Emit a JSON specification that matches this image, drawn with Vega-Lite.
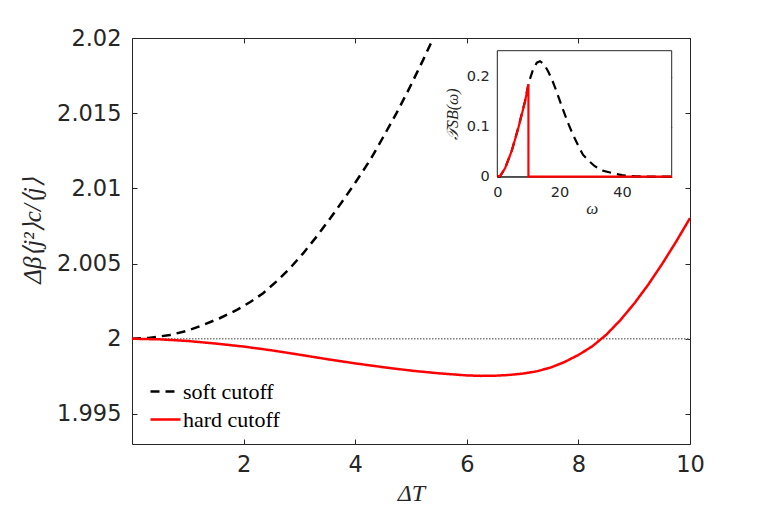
{
  "$schema": "https://vega.github.io/schema/vega-lite/v6.json",
  "width": 558,
  "height": 406,
  "autosize": {"type": "none"},
  "padding": {"left": 132, "top": 38, "right": 74, "bottom": 61},
  "background": "white",
  "config": {
    "view": {"stroke": null},
    "axis": {
      "domainColor": "#262626",
      "tickColor": "#262626",
      "labelColor": "#262626",
      "titleColor": "#262626",
      "domainWidth": 1,
      "tickWidth": 1,
      "grid": false,
      "labelFlush": false,
      "labelFont": "DejaVu Sans",
      "titleFont": "Liberation Serif",
      "titleFontWeight": "normal",
      "zindex": 1
    }
  },
  "datasets": {
    "main": [
      {"dT": 0, "val": 2.0, "series": "soft cutoff"},
      {"dT": 0.3, "val": 2.00005, "series": "soft cutoff"},
      {"dT": 0.68, "val": 2.00025, "series": "soft cutoff"},
      {"dT": 0.98, "val": 2.00052, "series": "soft cutoff"},
      {"dT": 1.28, "val": 2.00092, "series": "soft cutoff"},
      {"dT": 1.58, "val": 2.00138, "series": "soft cutoff"},
      {"dT": 1.88, "val": 2.00192, "series": "soft cutoff"},
      {"dT": 2.12, "val": 2.00244, "series": "soft cutoff"},
      {"dT": 2.35, "val": 2.00303, "series": "soft cutoff"},
      {"dT": 2.59, "val": 2.00381, "series": "soft cutoff"},
      {"dT": 2.83, "val": 2.00469, "series": "soft cutoff"},
      {"dT": 3.07, "val": 2.00569, "series": "soft cutoff"},
      {"dT": 3.31, "val": 2.0068, "series": "soft cutoff"},
      {"dT": 3.55, "val": 2.00799, "series": "soft cutoff"},
      {"dT": 3.79, "val": 2.00924, "series": "soft cutoff"},
      {"dT": 4.03, "val": 2.01054, "series": "soft cutoff"},
      {"dT": 4.27, "val": 2.0119, "series": "soft cutoff"},
      {"dT": 4.5, "val": 2.0134, "series": "soft cutoff"},
      {"dT": 4.74, "val": 2.015, "series": "soft cutoff"},
      {"dT": 4.98, "val": 2.01673, "series": "soft cutoff"},
      {"dT": 5.22, "val": 2.01856, "series": "soft cutoff"},
      {"dT": 5.4, "val": 2.02, "series": "soft cutoff"},
      {"dT": 5.6, "val": 2.0216, "series": "soft cutoff"},
      {"dT": 0, "val": 2.0, "series": "hard cutoff"},
      {"dT": 0.5, "val": 1.99996, "series": "hard cutoff"},
      {"dT": 1.0, "val": 1.99985, "series": "hard cutoff"},
      {"dT": 1.5, "val": 1.99968, "series": "hard cutoff"},
      {"dT": 2.0, "val": 1.99948, "series": "hard cutoff"},
      {"dT": 2.5, "val": 1.99923, "series": "hard cutoff"},
      {"dT": 3.0, "val": 1.99894, "series": "hard cutoff"},
      {"dT": 3.5, "val": 1.99864, "series": "hard cutoff"},
      {"dT": 4.0, "val": 1.99836, "series": "hard cutoff"},
      {"dT": 4.5, "val": 1.99811, "series": "hard cutoff"},
      {"dT": 5.0, "val": 1.99788, "series": "hard cutoff"},
      {"dT": 5.5, "val": 1.9977, "series": "hard cutoff"},
      {"dT": 6.0, "val": 1.99756, "series": "hard cutoff"},
      {"dT": 6.25, "val": 1.99753, "series": "hard cutoff"},
      {"dT": 6.5, "val": 1.99754, "series": "hard cutoff"},
      {"dT": 6.75, "val": 1.99759, "series": "hard cutoff"},
      {"dT": 7.0, "val": 1.99768, "series": "hard cutoff"},
      {"dT": 7.25, "val": 1.99783, "series": "hard cutoff"},
      {"dT": 7.5, "val": 1.99808, "series": "hard cutoff"},
      {"dT": 7.75, "val": 1.99845, "series": "hard cutoff"},
      {"dT": 8.0, "val": 1.99892, "series": "hard cutoff"},
      {"dT": 8.25, "val": 1.9995, "series": "hard cutoff"},
      {"dT": 8.5, "val": 2.00027, "series": "hard cutoff"},
      {"dT": 8.75, "val": 2.00123, "series": "hard cutoff"},
      {"dT": 9.0, "val": 2.00234, "series": "hard cutoff"},
      {"dT": 9.25, "val": 2.00359, "series": "hard cutoff"},
      {"dT": 9.5, "val": 2.00497, "series": "hard cutoff"},
      {"dT": 9.75, "val": 2.00645, "series": "hard cutoff"},
      {"dT": 10.0, "val": 2.00802, "series": "hard cutoff"}
    ],
    "inset": [
      {"w": 0, "T": 0, "series": "soft cutoff", "k": 0},
      {"w": 1, "T": 0.002, "series": "soft cutoff", "k": 1},
      {"w": 2.5, "T": 0.017, "series": "soft cutoff", "k": 2},
      {"w": 4.6, "T": 0.051, "series": "soft cutoff", "k": 3},
      {"w": 6.7, "T": 0.097, "series": "soft cutoff", "k": 4},
      {"w": 8.9, "T": 0.151, "series": "soft cutoff", "k": 5},
      {"w": 10, "T": 0.186, "series": "soft cutoff", "k": 6},
      {"w": 11.5, "T": 0.215, "series": "soft cutoff", "k": 7},
      {"w": 12.7, "T": 0.228, "series": "soft cutoff", "k": 8},
      {"w": 13.7, "T": 0.231, "series": "soft cutoff", "k": 9},
      {"w": 15, "T": 0.225, "series": "soft cutoff", "k": 10},
      {"w": 16.3, "T": 0.211, "series": "soft cutoff", "k": 11},
      {"w": 17.7, "T": 0.192, "series": "soft cutoff", "k": 12},
      {"w": 19, "T": 0.171, "series": "soft cutoff", "k": 13},
      {"w": 20.3, "T": 0.148, "series": "soft cutoff", "k": 14},
      {"w": 21.7, "T": 0.124, "series": "soft cutoff", "k": 15},
      {"w": 23, "T": 0.103, "series": "soft cutoff", "k": 16},
      {"w": 24.3, "T": 0.084, "series": "soft cutoff", "k": 17},
      {"w": 26, "T": 0.062, "series": "soft cutoff", "k": 18},
      {"w": 27.5, "T": 0.044, "series": "soft cutoff", "k": 19},
      {"w": 29.5, "T": 0.031, "series": "soft cutoff", "k": 20},
      {"w": 31.3, "T": 0.021, "series": "soft cutoff", "k": 21},
      {"w": 34, "T": 0.012, "series": "soft cutoff", "k": 22},
      {"w": 37, "T": 0.007, "series": "soft cutoff", "k": 23},
      {"w": 40, "T": 0.003, "series": "soft cutoff", "k": 24},
      {"w": 44, "T": 0.001, "series": "soft cutoff", "k": 25},
      {"w": 48, "T": 0.0003, "series": "soft cutoff", "k": 26},
      {"w": 52, "T": 0, "series": "soft cutoff", "k": 27},
      {"w": 56, "T": 0, "series": "soft cutoff", "k": 28},
      {"w": 0, "T": 0, "series": "hard cutoff", "k": 0},
      {"w": 1, "T": 0.002, "series": "hard cutoff", "k": 1},
      {"w": 2.5, "T": 0.017, "series": "hard cutoff", "k": 2},
      {"w": 4.6, "T": 0.051, "series": "hard cutoff", "k": 3},
      {"w": 6.7, "T": 0.096, "series": "hard cutoff", "k": 4},
      {"w": 8.9, "T": 0.15, "series": "hard cutoff", "k": 5},
      {"w": 10, "T": 0.185, "series": "hard cutoff", "k": 6},
      {"w": 10, "T": 0, "series": "hard cutoff", "k": 7},
      {"w": 56, "T": 0, "series": "hard cutoff", "k": 8}
    ],
    "ref": [{"a": 0, "b": 10, "v": 2}],
    "box": [{"w0": 0, "w1": 56, "t0": 0, "t1": 0.252}]
  },
  "resolve": {"scale": {"x": "independent", "y": "independent"}},
  "layer": [
    {
      "data": {"name": "ref"},
      "mark": {"type": "rule", "color": "#808080", "strokeWidth": 1.5, "strokeDash": [1.5, 1.5]},
      "encoding": {
        "x": {"field": "a", "type": "quantitative", "scale": {"domain": [0, 10], "nice": false, "zero": false},
          "axis": {"orient": "top", "values": [2, 4, 6, 8, 10], "labels": false, "tickSize": -5, "title": null}},
        "x2": {"field": "b"},
        "y": {"field": "v", "type": "quantitative", "scale": {"domain": [1.993, 2.02], "nice": false, "zero": false},
          "axis": {"orient": "right", "values": [1.995, 2, 2.005, 2.01, 2.015, 2.02], "labels": false, "tickSize": -5, "title": null}}
      }
    },
    {
      "data": {"name": "main"},
      "mark": {"type": "line", "strokeWidth": 2.5, "clip": true},
      "encoding": {
        "x": {"field": "dT", "type": "quantitative", "scale": {"domain": [0, 10], "nice": false, "zero": false},
          "axis": {"orient": "bottom", "values": [2, 4, 6, 8, 10], "format": "d", "tickSize": -5, "labelPadding": 14, "labelFontSize": 22.5,
            "title": "ΔT", "titleFontSize": 24, "titleFontStyle": "italic", "titleX": 279, "titleY": 49, "titleBaseline": "middle", "titleAlign": "center", "titleAngle": 0}},
        "y": {"field": "val", "type": "quantitative", "scale": {"domain": [1.993, 2.02], "nice": false, "zero": false},
          "axis": {"orient": "left", "values": [1.995, 2, 2.005, 2.01, 2.015, 2.02], "format": ".4~f", "tickSize": -5, "labelPadding": 16, "labelFontSize": 22.5,
            "title": "Δβ⟨j²⟩c/⟨j⟩", "titleFontSize": 25, "titleFontStyle": "italic", "titleX": -100, "titleY": 192, "titleAngle": -90, "titleBaseline": "middle", "titleAlign": "center"}},
        "color": {"field": "series", "type": "nominal", "scale": {"domain": ["soft cutoff", "hard cutoff"], "range": ["#000000", "#ff0000"]},
          "legend": {"title": null, "orient": "none", "legendX": 17, "legendY": 337, "padding": 0, "labelFont": "Liberation Serif", "labelFontSize": 22, "labelColor": "#000000", "symbolType": "stroke", "symbolSize": 900, "symbolStrokeWidth": 2.5, "rowPadding": -2, "labelOffset": 1}},
        "strokeDash": {"field": "series", "type": "nominal", "scale": {"domain": ["soft cutoff", "hard cutoff"], "range": [[9, 6], [1, 0]]},
          "legend": {"title": null, "orient": "none", "legendX": 17, "legendY": 337, "padding": 0, "labelFont": "Liberation Serif", "labelFontSize": 22, "labelColor": "#000000", "symbolType": "stroke", "symbolSize": 900, "symbolStrokeWidth": 2.5, "rowPadding": -2, "labelOffset": 1}}
      }
    },
    {
      "data": {"name": "box"},
      "mark": {"type": "rect", "fill": "white", "stroke": "#262626", "strokeWidth": 1},
      "encoding": {
        "x": {"field": "w0", "type": "quantitative", "scale": {"domain": [0, 56], "range": [365.3, 539.7], "nice": false, "zero": false},
          "axis": {"orient": "top", "offset": -12.7, "values": [0, 20, 40], "labels": false, "domain": false, "tickSize": -3, "title": null}},
        "x2": {"field": "w1"},
        "y": {"field": "t0", "type": "quantitative", "scale": {"domain": [0, 0.252], "range": [138.7, 12.7], "nice": false, "zero": false},
          "axis": {"orient": "right", "offset": -18.3, "values": [0, 0.1, 0.2], "labels": false, "domain": false, "tickSize": -3, "title": null}},
        "y2": {"field": "t1"}
      }
    },
    {
      "data": {"name": "inset"},
      "mark": {"type": "line", "strokeWidth": 2.2},
      "encoding": {
        "x": {"field": "w", "type": "quantitative", "scale": {"domain": [0, 56], "range": [365.3, 539.7], "nice": false, "zero": false},
          "axis": {"orient": "bottom", "offset": -267.3, "values": [0, 20, 40], "format": "d", "tickSize": -3, "labelPadding": 12, "labelFontSize": 14.5,
            "title": "ω", "titleFontSize": 17, "titleFontStyle": "italic", "titleX": 459.7, "titleY": 37, "titleBaseline": "alphabetic", "titleAlign": "center", "titleAngle": 0}},
        "y": {"field": "T", "type": "quantitative", "scale": {"domain": [0, 0.252], "range": [138.7, 12.7], "nice": false, "zero": false},
          "axis": {"orient": "left", "offset": -365.3, "values": [0, 0.1, 0.2], "format": ".1~f", "tickSize": -3, "labelPadding": 11, "labelFontSize": 14.5,
            "title": "𝒯SB(ω)", "titleFontSize": 16, "titleFontStyle": "italic", "titleX": -45, "titleY": 75.7, "titleAngle": -90, "titleBaseline": "middle", "titleAlign": "center"}},
        "color": {"field": "series", "type": "nominal"},
        "strokeDash": {"field": "series", "type": "nominal"},
        "order": {"field": "k", "type": "quantitative"}
      }
    }
  ]
}
